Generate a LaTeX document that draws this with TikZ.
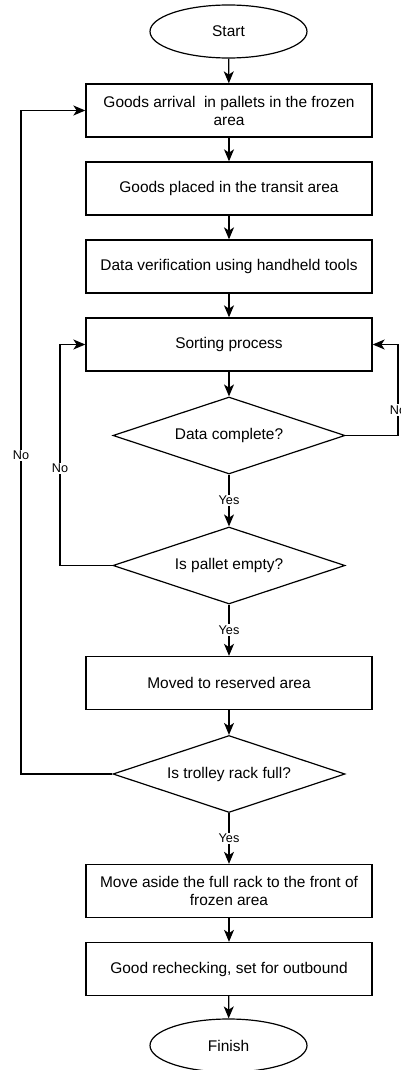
\documentclass[tikz,border=0pt]{standalone}
\usepackage{fontspec}
\setmainfont{Liberation Sans}
\usetikzlibrary{shapes.geometric,arrows.meta}

\begin{document}
\begin{tikzpicture}[x=0.75pt,y=-0.75pt,
  every node/.style={font=\fontsize{11.6}{13.5}\selectfont},
  process/.style={draw, line width=1pt, minimum width=214.5pt, minimum height=39.75pt, align=center, inner sep=2pt},
  decision/.style={draw, diamond, aspect=3, line width=0.9pt, minimum width=174pt, minimum height=57.75pt, inner sep=0pt},
  terminal/.style={draw, ellipse, line width=0.9pt, minimum width=117.75pt, minimum height=39.75pt},
  flow/.style={-{Stealth[length=9pt,width=7.5pt,inset=2.5pt]}, line width=0.9pt},
  answer/.style={fill=white, inner sep=1pt, font=\fontsize{9.5}{11}\selectfont}]
  \useasboundingbox (0,0) rectangle (400,1070);
  % main column
  \node[terminal] (start) at (228.5,31.5) {Start};
  \node[process] (arrival) at (229,110.5) {Goods arrival\ \ in pallets in the frozen\\area};
  \node[process] (placed) at (229,188.5) {Goods placed in the transit area};
  \node[process] (verify) at (229,266.5) {Data verification using handheld tools};
  \node[process] (sorting) at (229,344.5) {Sorting process};
  \node[decision] (complete) at (229,435.5) {Data complete?};
  \node[decision] (pallet) at (229,565.5) {Is pallet empty?};
  \node[process] (reserved) at (229,683) {Moved to reserved area};
  \node[decision] (trolley) at (229,774) {Is trolley rack full?};
  \node[process] (aside) at (229,891) {Move aside the full rack to the front of\\frozen area};
  \node[process] (recheck) at (229,969) {Good rechecking, set for outbound};
  \node[terminal] (finish) at (228.5,1045.5) {Finish};
  % loop lines
  \coordinate (loopR) at (398,0);
  \coordinate (loopL) at (60,0);
  \coordinate (loopO) at (21,0);

  \draw[flow] (start) -- (arrival);
  \draw[flow] (arrival) -- (placed);
  \draw[flow] (placed) -- (verify);
  \draw[flow] (verify) -- (sorting);
  \draw[flow] (sorting) -- (complete);
  \draw[flow] (complete) -- node[answer] {Yes} (pallet);
  \draw[flow] (pallet) -- node[answer] {Yes} (reserved);
  \draw[flow] (reserved) -- (trolley);
  \draw[flow] (trolley) -- node[answer] {Yes} (aside);
  \draw[flow] (aside) -- (recheck);
  \draw[flow] (recheck) -- (finish);

  \draw[flow] (complete.east) -- (complete.east -| loopR) -- node[answer,pos=0.28] {No} (sorting.east -| loopR) -- (sorting.east);
  \draw[flow] (pallet.west) -- (pallet.west -| loopL) -- node[answer,pos=0.44] {No} (sorting.west -| loopL) -- (sorting.west);
  \draw[flow] (trolley.west) -- (trolley.west -| loopO) -- node[answer,pos=0.48] {No} (arrival.west -| loopO) -- (arrival.west);
\end{tikzpicture}
\end{document}
